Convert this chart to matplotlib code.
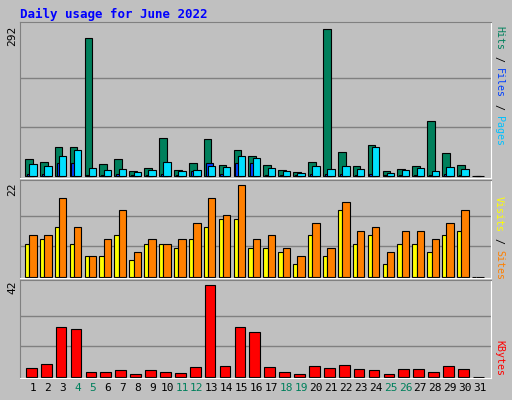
import matplotlib.pyplot as plt
import numpy as np

days = np.arange(1, 32)
hits = [34, 28, 58, 58, 274, 24, 34, 10, 16, 76, 12, 26, 74, 22, 52, 40, 22, 12, 7, 28,
        292, 48, 20, 62, 9, 14, 20, 110, 46, 22, 0]
files = [24, 20, 40, 52, 16, 12, 14, 7, 12, 28, 9, 12, 20, 18, 40, 36, 16, 9, 5, 20,
         14, 20, 14, 58, 5, 12, 16, 9, 18, 14, 0]
pages = [4, 3, 26, 26, 2, 2, 3, 1, 2, 4, 1, 10, 26, 4, 26, 26, 2, 1, 1, 3,
         3, 3, 2, 4, 1, 2, 2, 2, 3, 2, 0]
visits = [10, 10, 19, 12, 5, 9, 16, 6, 9, 8, 9, 13, 19, 15, 22, 9, 10, 7, 5, 13,
          7, 18, 11, 12, 6, 11, 11, 9, 13, 16, 0]
sites = [8, 9, 12, 8, 5, 5, 10, 4, 8, 8, 7, 9, 12, 14, 14, 7, 7, 6, 3, 10,
         5, 16, 8, 10, 3, 8, 8, 6, 10, 11, 0]
kbytes = [3.8, 5.7, 22.7, 21.8, 2, 2, 2.9, 1.1, 2.9, 2, 1.5, 4.3, 42, 4.8, 22.7, 20.4,
          4.3, 2, 1.1, 4.8, 3.8, 5.2, 3.4, 2.9, 1.1, 3.4, 3.4, 2, 4.8, 3.4, 0]
weekend = [4, 5, 11, 12, 18, 19, 25, 26]

W, H = 512, 400
fig = plt.figure(figsize=(W / 100, H / 100), dpi=100, facecolor='#C0C0C0')
font = 'DejaVu Sans Mono'

def panel(y0, y1):
    ax = fig.add_axes([20 / W, 1 - y1 / H, 471 / W, (y1 - y0) / H])
    ax.set_facecolor('#C0C0C0')
    ax.set_xlim(0.13, 31.74)
    ax.set_xticks([])
    ax.set_yticks([])
    for s in ['top', 'left']:
        ax.spines[s].set_color('#808080')
    for s in ['bottom', 'right']:
        ax.spines[s].set_color('white')
    return ax

ec = dict(edgecolor='black', linewidth=0.8)

ax1 = panel(22, 178)
ax1.set_ylim(-4, 292 * 1.048)
for g in [292 / 3, 292 * 2 / 3]:
    ax1.axhline(g, color='#808080', lw=1, zorder=0)
ax1.bar(days - 0.54, hits, width=0.52, align='edge', color='#00805C', **ec)
ax1.bar(days - 0.42, pages, width=0.5, align='edge', color='#0040FF', **ec)
ax1.bar(days - 0.25, files, width=0.5, align='edge', color='#00E0FF', **ec)

ax2 = panel(180, 278)
ax2.set_ylim(-0.3, 22 * 1.06)
for g in [22 / 3, 22 * 2 / 3]:
    ax2.axhline(g, color='#808080', lw=1, zorder=0)
ax2.bar(days - 0.54, sites, width=0.3, align='edge', color='#FFFF00', **ec)
ax2.bar(days - 0.25, visits, width=0.5, align='edge', color='#FF8000', **ec)

ax3 = panel(280, 378)
ax3.set_ylim(-0.6, 42 * 1.06)
for g in [14, 28]:
    ax3.axhline(g, color='#808080', lw=1, zorder=0)
ax3.bar(days - 0.47, kbytes, width=0.72, align='edge', color='#FF0000', **ec)

for d in days:
    x = (20 + (d - 0.13) / (31.74 - 0.13) * 471) / W
    fig.text(x, 1 - 388 / H, str(d), ha='center', va='center', fontsize=8, family=font,
             color='#00805C' if d in weekend else 'black')

fig.text(20 / W, 1 - 14 / H, 'Daily usage for June 2022', fontsize=9, family=font,
         weight='bold', color='#0000FF', va='center')
for y, t in [(36, '292'), (189, '22'), (287, '42')]:
    fig.text(12 / W, 1 - y / H, t, rotation=90, ha='center', va='center', fontsize=8, family=font)

fs = 7.2
step = fs * 100 / 72 * 0.602

def side(ytop, parts):
    y = ytop
    for t, c in parts:
        fig.text(499 / W, 1 - y / H, t, rotation=-90, ha='center', va='top', fontsize=fs,
                 family=font, color=c)
        y += len(t) * step

side(26, [('Hits', '#00805C'), (' / ', 'black'), ('Files', '#0040FF'), (' / ', 'black'), ('Pages', '#00C0FF')])
side(196, [('Visits', '#FFFF00'), (' / ', 'black'), ('Sites', '#FF8000')])
side(340, [('KBytes', '#FF0000')])

fig.savefig('out.png', dpi=100, facecolor=fig.get_facecolor())
